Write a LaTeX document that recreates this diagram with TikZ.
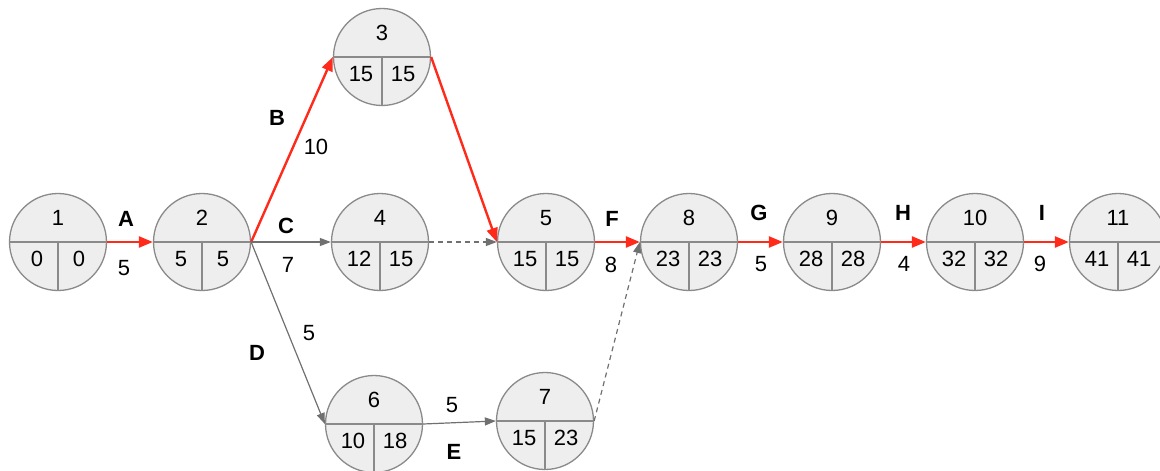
\documentclass[tikz,border=0pt]{standalone}
\usepackage{fontspec}
\setmainfont{Liberation Sans}
\usetikzlibrary{arrows.meta,calc}
\definecolor{evfill}{HTML}{EEEEEE}
\definecolor{evline}{HTML}{8A8A8A}
\definecolor{crit}{HTML}{FF2A1A}
\definecolor{norm}{HTML}{707070}
\tikzset{
  ev/.style={circle, draw=evline, line width=1.3pt, fill=evfill, minimum size=97pt, inner sep=0pt},
  divline/.style={draw=evline, line width=1.3pt},
  num/.style={font=\fontsize{22}{24}\selectfont, inner sep=0pt},
  actlbl/.style={font=\bfseries\fontsize{22}{24}\selectfont, inner sep=0pt},
  durlbl/.style={font=\fontsize{22}{24}\selectfont, inner sep=0pt},
  critarrow/.style={draw=crit, line width=2.4pt, -{Triangle[length=14pt,width=11pt]}},
  normarrow/.style={draw=norm, line width=1.2pt, -{Triangle[length=11pt,width=8pt]}},
  dumarrow/.style={draw=norm, line width=1.2pt, dash pattern=on 5pt off 4pt, -{Triangle[length=11pt,width=8pt]}}
}
\newcommand{\evt}[6]{%
  \node[ev] (#1) at (#2,#3) {};
  \draw[divline] (#1.west) -- (#1.east);
  \draw[divline] (#1.center) -- (#1.south);
  \node[num] (#1-t) at ($(#1.center)+(0,-24)$) {#4};
  \node[num] (#1-e) at ($(#1.center)+(-21,17)$) {#5};
  \node[num] (#1-l) at ($(#1.center)+(21,17)$) {#6};
}
\begin{document}
\begin{tikzpicture}[x=1pt,y=-1pt]
\useasboundingbox (0,0) rectangle (1160,471);
\evt{n1}{58}{242}{1}{0}{0}
\evt{n2}{202}{242}{2}{5}{5}
\evt{n3}{382}{57}{3}{15}{15}
\evt{n4}{380}{242}{4}{12}{15}
\evt{n5}{546}{242}{5}{15}{15}
\evt{n6}{374}{424}{6}{10}{18}
\evt{n7}{545}{421}{7}{15}{23}
\evt{n8}{689}{242}{8}{23}{23}
\evt{n9}{832}{242}{9}{28}{28}
\evt{n10}{975}{242}{10}{32}{32}
\evt{n11}{1118}{242}{11}{41}{41}
% connectors
\draw[critarrow] (n1.east) -- (n2.west);
\draw[critarrow] (n2.east) -- (n3.west);
\draw[critarrow] (n3.east) -- (n5.west);
\draw[normarrow] (n2.east) -- (n4.west);
\draw[dumarrow] (n4.east) -- (n5.west);
\draw[normarrow] (n2.east) -- (n6.west);
\draw[normarrow] (n6.east) -- (n7.west);
\draw[dumarrow] (n7.east) -- (n8.west);
\draw[critarrow] (n5.east) -- (n8.west);
\draw[critarrow] (n8.east) -- (n9.west);
\draw[critarrow] (n9.east) -- (n10.west);
\draw[critarrow] (n10.east) -- (n11.west);
% labels
\node[actlbl] (lA) at (126,219) {A};
\node[durlbl] (dA) at (124,268) {5};
\node[actlbl] (lB) at (277,118) {B};
\node[durlbl] (dB) at (316,147) {10};
\node[actlbl] (lC) at (286,226) {C};
\node[durlbl] (dC) at (288,265) {7};
\node[actlbl] (lD) at (257,353) {D};
\node[durlbl] (dD) at (309,333) {5};
\node[actlbl] (lE) at (454,452) {E};
\node[durlbl] (dE) at (452,405) {5};
\node[actlbl] (lF) at (612,219) {F};
\node[durlbl] (dF) at (611,265) {8};
\node[actlbl] (lG) at (759,213) {G};
\node[durlbl] (dG) at (761,264) {5};
\node[actlbl] (lH) at (903,213) {H};
\node[durlbl] (dH) at (904,264) {4};
\node[actlbl] (lI) at (1042,213) {I};
\node[durlbl] (dI) at (1040,264) {9};
\end{tikzpicture}
\end{document}
